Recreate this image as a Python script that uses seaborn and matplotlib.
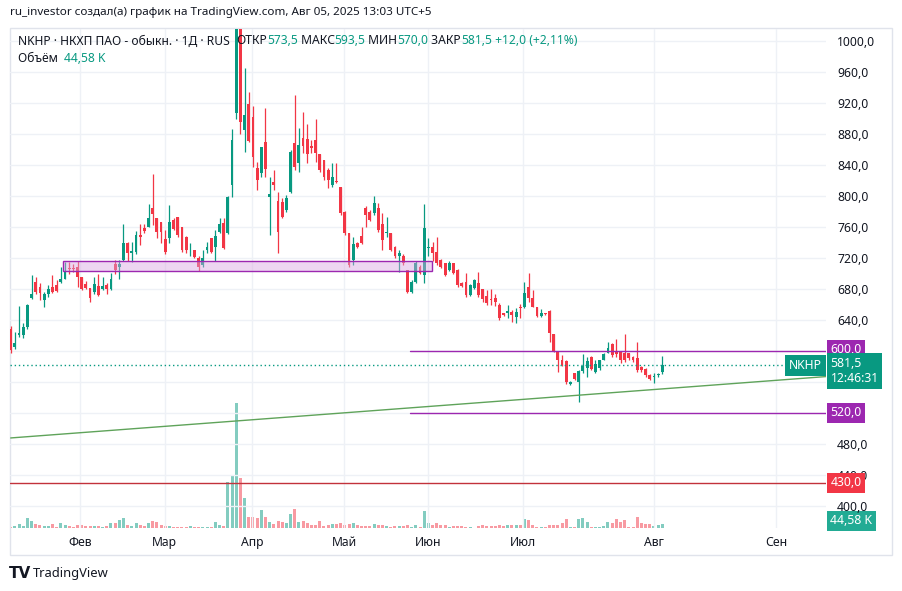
import matplotlib
matplotlib.use("Agg")
import matplotlib.pyplot as plt
import matplotlib.patches as mpatches
import numpy as np
import pandas as pd
import seaborn as sns

# ---------------- data ----------------
opens = [629, 605.5, 620, 620, 630.5, 668, 689.5, 682, 666, 673,
         682, 685, 689, 693.5, 707.5, 706.5, 709, 695, 686.5, 681,
         675.5, 684.5, 680, 685, 680, 712, 708, 717.5, 740, 726,
         728, 749.5, 759, 760.5, 784, 771, 767, 745, 746, 769,
         772.5, 759.5, 747.5, 731, 730.5, 719.5, 711, 730.5, 745.5, 734,
         754, 765.5, 752, 814, 907, 1030, 885, 918.5, 901.5, 835.5,
         829.5, 870, 799, 818.5, 794, 792.5, 782, 805.5, 868, 842,
         874.5, 873, 864.5, 872.5, 854, 846.5, 833.5, 814, 819, 811,
         780, 752, 717.5, 739, 748.5, 784, 779, 777.5, 784, 764,
         752, 752, 734.5, 722, 722.5, 704.5, 676.5, 689.5, 709, 698,
         732.5, 734.5, 728, 717.5, 713, 704.5, 713, 704.5, 687.5, 688.5,
         672.5, 681, 687.5, 679.5, 671, 667, 668, 660, 648.5, 648.5,
         650.5, 643.5, 656.5, 657, 683, 669, 656.5, 645, 648, 652,
         622, 599, 588.5, 587.5, 557.5, 571, 560.5, 574.5, 577.5, 592,
         573.5, 577.5, 589, 598, 609, 599, 599, 597, 597, 592,
         590.5, 579, 576.5, 569, 566.5, 569, 573.5]
highs = [632, 625, 658, 635.5, 661, 697.5, 695, 687.5, 675.5, 685,
         698, 691.5, 709, 715, 715, 712, 716, 695.5, 690.5, 681,
         695, 699.5, 695, 687.5, 701, 718, 717.5, 764.5, 741, 741,
         755, 764.5, 764.5, 789.5, 828, 771.5, 767, 756, 788, 771,
         773.5, 760.5, 748.5, 739, 730.5, 722, 730.5, 741, 745.5, 756,
         771, 771, 799.5, 886, 1080, 1070, 965, 934.5, 915.5, 844.5,
         863.5, 913, 825, 833.5, 805.5, 797, 801.5, 859.5, 930, 887.5,
         909, 893, 872.5, 900, 854.5, 846.5, 835.5, 842, 842, 812,
         780.5, 752.5, 747.5, 741, 760.5, 787, 782, 800.5, 790.5, 777.5,
         773.5, 752.5, 735.5, 730.5, 725, 705, 691.5, 715.5, 711, 789.5,
         745.5, 741, 747.5, 718.5, 714, 715.5, 714, 705.5, 689.5, 700.5,
         686.5, 692.5, 702.5, 680, 678.5, 679.5, 673, 661.5, 649.5, 660,
         653, 655, 661, 689.5, 701, 678.5, 657, 654, 649, 652.5,
         622.5, 599.5, 595, 589, 561.5, 572, 575, 596, 592.5, 593.5,
         588.5, 589, 597, 612, 610, 615, 600.5, 622, 598, 593,
         612, 580, 577.5, 570, 571, 571, 593.5]
lows = [597, 602, 618, 616.5, 629, 667, 673.5, 666, 657, 670,
        675, 676.5, 688, 692.5, 699.5, 702, 682, 678.5, 679.5, 663.5,
        673.5, 671, 678.5, 673.5, 679, 700, 693.5, 716.5, 716.5, 715,
        725, 736.5, 752, 759.5, 762.5, 745.5, 739, 725, 739, 756,
        747.5, 728, 727, 722, 719.5, 703.5, 709, 726, 726, 715.5,
        752, 731, 751, 799, 899, 880, 857, 870, 838, 808,
        825, 825, 749.5, 808, 726, 771, 780, 803.5, 833.5, 831.5,
        855, 842, 855, 844.5, 831.5, 820.5, 810, 812, 816.5, 775.5,
        750, 709, 711, 732.5, 738, 760.5, 768, 775.5, 754, 730.5,
        747.5, 729.5, 719.5, 702.5, 711, 674.5, 674.5, 687.5, 699.5, 687.5,
        722, 715.5, 711, 706.5, 697, 703.5, 699.5, 683, 683, 670,
        671, 679.5, 670, 663.5, 659.5, 659.5, 658, 640, 645, 643,
        638, 635.5, 642, 655, 663.5, 656.5, 644, 643.5, 646, 612,
        598.5, 573, 580.5, 557, 556.5, 562, 534.5, 571, 566, 575.5,
        572, 575, 588, 597, 592.5, 592.5, 585, 586, 589, 586,
        573.5, 573, 567, 562, 559, 567, 570]
closes = [601, 610.5, 623, 630.5, 660, 673, 676.5, 674.5, 673, 680,
          676.5, 678, 693.5, 703, 706, 706, 695, 679.5, 681.5, 669,
          686, 672, 684.5, 680, 693.5, 704.5, 712, 739, 726, 729,
          749.5, 747.5, 755, 771, 777, 753, 753, 728, 767, 757,
          749.5, 730.5, 730.5, 732, 721, 708, 719.5, 734.5, 728, 748.5,
          764.5, 732.5, 799, 872.5, 1030, 895, 904.5, 871.5, 850, 820.5,
          863, 834.5, 802.5, 814, 754, 773.5, 797, 857, 838, 866,
          864.5, 854, 861.5, 855, 833.5, 825, 820.5, 825, 818.5, 777.5,
          752, 711, 738, 734.5, 739, 775.5, 769, 790.5, 756, 743.5,
          754, 730.5, 722, 726, 713, 676.5, 688.5, 713, 700.5, 758.5,
          734.5, 726, 713, 709, 698, 713, 700.5, 685, 684.5, 672.5,
          685, 691.5, 672.5, 666.5, 662.5, 666, 663.5, 642, 646.5, 651.5,
          646.5, 650.5, 655.5, 674.5, 669, 657, 645, 649.5, 647.5, 623.5,
          599, 588.5, 582, 560.5, 560, 563.5, 574.5, 580, 587.5, 576.5,
          583, 588.5, 596, 603.5, 595, 596, 588.5, 588.5, 590.5, 589,
          575.5, 575.5, 569, 563.5, 567, 569.5, 581.5]
volumes_k = [11, 19, 45, 26, 108, 81, 45, 33, 26, 26,
             45, 14, 56, 37, 26, 14, 37, 37, 22, 26,
             26, 26, 8, 19, 56, 52, 93, 108, 37, 26,
             56, 30, 19, 56, 81, 64, 33, 26, 22, 14,
             14, 14, 14, 19, 11, 14, 14, 14, 14, 67,
             33, 26, 516, 591, 1390, 554, 335, 126, 119, 108,
             204, 119, 70, 45, 81, 64, 52, 159, 212, 70,
             81, 52, 33, 30, 81, 26, 30, 48, 41, 52,
             33, 45, 52, 33, 26, 26, 26, 45, 37, 30,
             26, 14, 19, 22, 26, 37, 8, 33, 14, 193,
             52, 33, 52, 37, 33, 14, 19, 22, 19, 14,
             8, 4, 26, 33, 26, 22, 22, 33, 26, 30,
             30, 33, 37, 104, 89, 33, 14, 8, 8, 33,
             33, 33, 52, 100, 8, 8, 104, 108, 64, 14,
             14, 14, 19, 67, 56, 97, 64, 89, 14, 14,
             119, 56, 45, 45, 26, 37, 44.58]

month_labels = ["Фев", "Мар", "Апр", "Май", "Июн", "Июл", "Авг", "Сен"]
month_ticks = [16.6, 36.9, 57.8, 79.8, 99.9, 122.6, 154.0, 183.2]
price_ticks = [400, 440, 480, 520, 560, 600, 640, 680, 720, 760, 800, 840, 880, 920, 960, 1000]
hidden_price_labels = [520, 560, 600]   # covered by the badges on the price scale
levels_purple = [600, 520]
level_red = 430
zone_prices = [703, 716.5]
trend_x = [0, 195.2]
trend_y = [487.8, 567.0]
ticker = "NKHP"
countdown = "12:46:31"

# ---------------- style ----------------
sns.set_theme(style="white")
plt.rcParams['font.family'] = ['Noto Sans', 'DejaVu Sans']

UP, DOWN = "#089981", "#f23645"
VUP, VDOWN = "#83ccc0", "#f89aa2"
PURPLE = "#9c27b0"
DARK = "#131722"
GRID = "#eef1f6"

W, H = 902, 591
fig = plt.figure(figsize=(W / 100, H / 100), dpi=100)
fig.patch.set_facecolor("white")

def rect(l, t, r, b):
    return [l / W, 1 - b / H, (r - l) / W, (b - t) / H]

pane = rect(10, 29, 826, 528)
axv = fig.add_axes(pane)
ax = fig.add_axes(pane, sharex=axv)
axv.set_zorder(0)
ax.set_zorder(1)
ax.patch.set_alpha(0)

o = np.array(opens, float); h = np.array(highs, float)
l = np.array(lows, float); c = np.array(closes, float)
n = len(o)
idx = np.arange(n)
up = c >= o

# volume via seaborn
df = pd.DataFrame({"idx": idx, "vol": volumes_k, "dir": np.where(up, "up", "down")})
sns.barplot(data=df, x="idx", y="vol", hue="dir", palette={"up": VUP, "down": VDOWN},
            native_scale=True, dodge=False, width=0.72, errorbar=None, legend=False,
            saturation=1, linewidth=0, ax=axv)
axv.set_ylim(0, max(volumes_k) * 499 / 125)
axv.set_axis_off()

# candles
cols = np.where(up, UP, DOWN)
ax.vlines(idx, l, h, colors=cols, lw=0.9, zorder=3)
body = np.maximum(np.abs(c - o), 0.9)
ax.bar(idx, body, bottom=np.minimum(o, c), width=0.68, color=cols, linewidth=0, zorder=4)

# grid
for p in price_ticks:
    ax.axhline(p, color=GRID, lw=1, zorder=0)
for m in month_ticks:
    ax.axvline(m, color=GRID, lw=1, zorder=0)

ax.set_xlim(-0.17, 195.2)
ax.set_ylim(371.6, 1015.5)

# drawings
zone_l = (63 - 10) / 816
zone_r = (432 - 10) / 816
ax.axhspan(zone_prices[0], zone_prices[1], xmin=zone_l, xmax=zone_r,
           facecolor="#d9a6e0", alpha=0.45, edgecolor="none", zorder=5)
ax.axhspan(zone_prices[0], zone_prices[1], xmin=zone_l, xmax=zone_r,
           facecolor="none", edgecolor=PURPLE, lw=1, zorder=6)
for lv in levels_purple:
    ax.axhline(lv, xmin=(410 - 10) / 816, xmax=1, color=PURPLE, lw=1, zorder=6)
ax.axhline(level_red, color="#c2323b", lw=1, zorder=6)
ax.plot(trend_x, trend_y, color="#5fa35a", lw=1, zorder=6)
ax.axhline(c[-1], color=UP, lw=1, ls=(0, (1, 2)), zorder=6)

# axes ticks
fmt = lambda v: f"{v:.1f}".replace(".", ",")
ax.yaxis.tick_right()
ax.set_yticks(price_ticks)
ax.set_yticklabels(["" if p in hidden_price_labels else fmt(p) for p in price_ticks])
ax.set_xticks(month_ticks)
ax.set_xticklabels(month_labels)
ax.tick_params(axis="y", length=0, pad=8, labelsize=8.8, labelcolor=DARK)
ax.tick_params(axis="x", length=0, pad=6, labelsize=8.8, labelcolor=DARK)
for t in ax.get_xticklabels():
    t.set_fontweight("medium")
for s in ax.spines.values():
    s.set_visible(False)

# badges
def badge(axis, val, text, color, dx=4.5, dy=0.0, ha="left", xfrac=1.0, fs=8.8, weight="semibold"):
    axis.annotate(text, xy=(xfrac, val), xycoords=("axes fraction", "data"),
                  xytext=(dx * 0.72, dy * 0.72), textcoords="offset points",
                  ha=ha, va="center", color="white", fontsize=fs, fontweight=weight,
                  bbox=dict(boxstyle="square,pad=0.3", fc=color, ec="none"),
                  annotation_clip=False, zorder=20)

badge(ax, levels_purple[0], fmt(levels_purple[0]), PURPLE, dy=1.0)
badge(ax, levels_purple[1], fmt(levels_purple[1]), PURPLE)
badge(ax, level_red, fmt(level_red), "#f23645")
badge(ax, c[-1], fmt(c[-1]) + "\n" + countdown, UP, dy=-5.5)
badge(ax, c[-1], ticker, UP, dx=-4, ha="right", weight="bold")
badge(axv, volumes_k[-1], f"{volumes_k[-1]:.2f}".replace(".", ",") + " K", "#22ab94", dy=3)

# frame
fig.add_artist(mpatches.Rectangle((10 / W, 1 - 555 / H), 882 / W, 527 / H,
                                  transform=fig.transFigure, fill=False,
                                  edgecolor="#e0e3eb", lw=1))

# header texts
fig.text(10 / W, 1 - 13 / H,
         "ru_investor создал(а) график на TradingView.com, Авг 05, 2025 13:03 UTC+5",
         fontsize=8.4, color=DARK, va="center", ha="left")

renderer = fig.canvas.get_renderer()

def chain(x_px, y_px, pieces, fs=8.7):
    x = x_px
    for txt, col in pieces:
        t = fig.text(x / W, 1 - y_px / H, txt, fontsize=fs, color=col, va="center", ha="left", zorder=30)
        x += t.get_window_extent(renderer).width

chg = c[-1] - c[-2]
pct = chg / c[-2] * 100
chain(18, 41, [("NKHP · НКХП ПАО - обыкн. · 1Д · RUS  ", DARK),
               ("ОТКР", DARK), (fmt(o[-1]), UP),
               (" МАКС", DARK), (fmt(h[-1]), UP),
               (" МИН", DARK), (fmt(l[-1]), UP),
               (" ЗАКР", DARK), (fmt(c[-1]), UP),
               (f" +{fmt(chg)} (+{pct:.2f}%)".replace(".", ","), UP)])
chain(18, 58, [("Объём  ", DARK), (f"{volumes_k[-1]:.2f}".replace(".", ",") + " K", UP)])

# footer logo
fig.text(9 / W, 1 - 573 / H, "TV", fontsize=11, fontweight="black", color=DARK, va="center",
         family=["DejaVu Sans"])
fig.text(33 / W, 1 - 573 / H, "TradingView", fontsize=9.3, color=DARK, va="center")

fig.savefig("out.png", dpi=100, facecolor="white")
